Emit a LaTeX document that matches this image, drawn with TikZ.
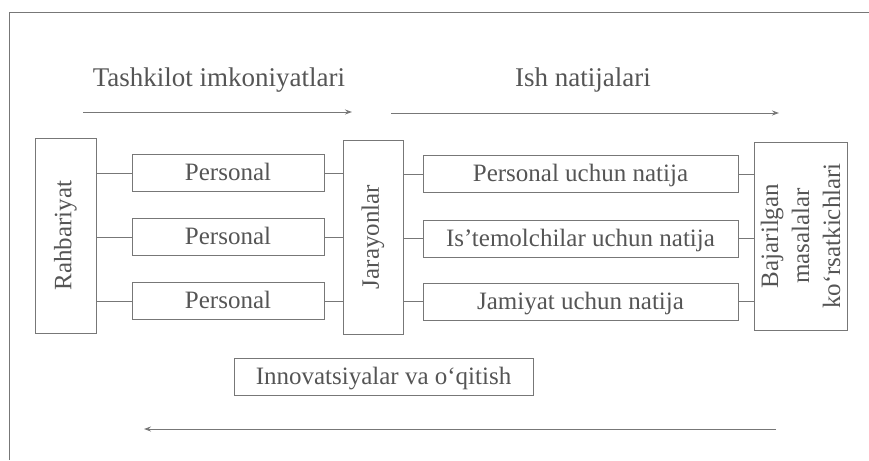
\documentclass[tikz,border=0pt]{standalone}
\usepackage{fontspec}
\setmainfont{Liberation Serif}
\usetikzlibrary{arrows.meta}
\definecolor{ink}{HTML}{555555}
\definecolor{linec}{HTML}{777777}
\tikzset{
  box/.style={draw=linec, line width=0.9pt, text=ink, inner sep=0pt, font=\fontsize{25}{30}\selectfont},
  hbox/.style={box, text height=17pt, text depth=2pt},
  vbox/.style={box, rotate=90},
  conn/.style={draw=linec, line width=0.9pt},
  flow/.style={draw=linec, line width=0.9pt, -{Stealth[length=7pt,width=5pt]}},
  head/.style={text=ink, font=\fontsize{27}{30}\selectfont, inner sep=0pt},
}
\begin{document}
\begin{tikzpicture}[x=1pt, y=-1pt]
\useasboundingbox (0,0) rectangle (869,460);
% frame
\draw[linec, line width=0.9pt] (9,460) -- (9,12) -- (869,12);
% headings
\node[head] (t1) at (219,80) {Tashkilot imkoniyatlari};
\node[head] (t2) at (583,80) {Ish natijalari};
\coordinate (a1s) at (83,112);
\coordinate (a1e) at (352,112);
\coordinate (a2s) at (391,113);
\coordinate (a2e) at (779,113);
\draw[flow] (a1s) -- (a1e);
\draw[flow] (a2s) -- (a2e);
% boxes
\node[vbox, minimum width=195pt, minimum height=61pt] (rah) at (65.5,235.5) {Rahbariyat};
\node[hbox, minimum width=192pt, minimum height=37pt] (p1) at (228,173) {Personal};
\node[hbox, minimum width=192pt, minimum height=37pt] (p2) at (228,237) {Personal};
\node[hbox, minimum width=192pt, minimum height=37pt] (p3) at (228,301) {Personal};
\node[vbox, minimum width=194pt, minimum height=60pt] (jar) at (373,237) {Jarayonlar};
\node[hbox, minimum width=315pt, minimum height=37pt] (r1) at (580.5,174) {Personal uchun natija};
\node[hbox, minimum width=315pt, minimum height=37pt] (r2) at (580.5,238.5) {Is’temolchilar uchun natija};
\node[hbox, minimum width=315pt, minimum height=37pt] (r3) at (580.5,301.5) {Jamiyat uchun natija};
\node[vbox, minimum width=188pt, minimum height=93pt, align=center, font=\fontsize{25}{31}\selectfont] (baj) at (800.5,236) {Bajarilgan\\masalalar\\ko‘rsatkichlari};
\node[hbox, minimum width=299pt, minimum height=37pt] (inn) at (383.5,376.5) {Innovatsiyalar va o‘qitish};
% connectors
\foreach \p in {p1,p2,p3}{
  \draw[conn] (rah.south |- \p.west) -- (\p.west);
  \draw[conn] (\p.east) -- (jar.north |- \p.east);
}
\foreach \r in {r1,r2,r3}{
  \draw[conn] (jar.south |- \r.west) -- (\r.west);
  \draw[conn] (\r.east) -- (baj.north |- \r.east);
}
% bottom arrow
\coordinate (a3s) at (776,429);
\coordinate (a3e) at (144,429);
\draw[flow] (a3s) -- (a3e);
\end{tikzpicture}
\end{document}
